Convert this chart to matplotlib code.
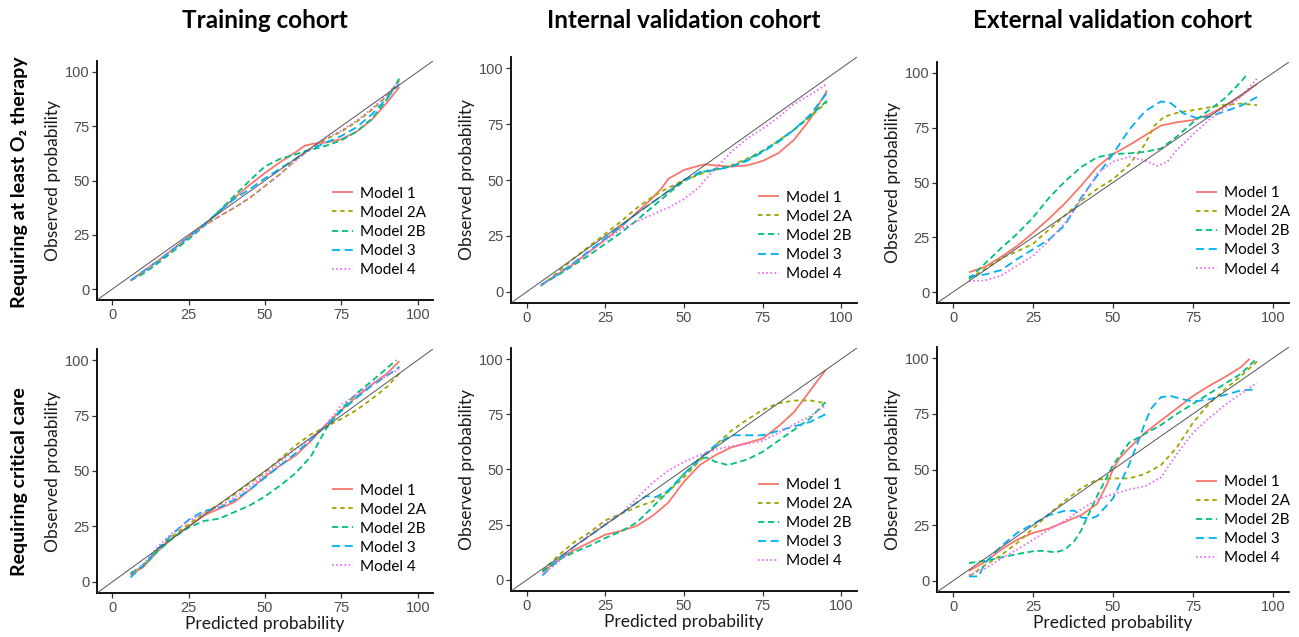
import matplotlib
matplotlib.use("Agg")
import matplotlib.pyplot as plt

# ---------------- data ----------------
model_names = ["Model 1", "Model 2A", "Model 2B", "Model 3", "Model 4"]
col_titles = ["Training cohort", "Internal validation cohort", "External validation cohort"]
row_titles = ["Requiring at least O\u2082 therapy", "Requiring critical care"]
tick_vals = [0, 25, 50, 75, 100]

# Training cohort, O2 therapy
tr_o2_x = [6, 10, 15, 20, 25, 30, 35, 40, 45, 50, 55, 60, 63, 66, 70, 75, 80, 85, 90, 94]
tr_o2_m1 = [4, 8, 13, 18.5, 24, 29.5, 35.5, 42, 48, 53.5, 58.5, 63, 66, 67, 67.5, 69, 72.5, 78, 86, 93]
tr_o2_m2a = [4, 8, 13, 18.5, 24, 29, 33.5, 37.5, 42, 47.5, 53, 59.5, 62.5, 65.5, 69, 72.5, 77, 82.5, 89, 96]
tr_o2_m2b = [4, 7, 12, 17.5, 23, 29, 36, 43, 50, 56.5, 60, 62, 63.5, 64.5, 66, 68.5, 72.5, 78.5, 87.5, 97]
tr_o2_m3 = [4, 8, 13, 18.5, 24, 29.5, 36, 41.5, 46, 51, 55.5, 60, 63, 65, 67.5, 70.5, 74.5, 80.5, 88, 94.5]
tr_o2_m4 = [4, 8, 13, 18.5, 24, 29, 33.5, 37.5, 42, 47.5, 53, 59, 62.5, 65.5, 69.5, 73, 77.5, 83, 89.5, 96]

# Internal validation cohort, O2 therapy
iv_o2_x = [4.5, 10, 15, 20, 25, 30, 35, 40, 43, 45, 50, 55, 57, 60, 65, 70, 75, 80, 85, 90, 95.5]
iv_o2_m1 = [3, 8, 12.5, 18, 23.5, 29, 35.5, 42, 46.5, 50.5, 54.5, 56.5, 57, 56.5, 56, 56.5, 58.5, 62, 68, 77, 90]
iv_o2_m2a = [2.5, 9, 15, 20.5, 26, 31.5, 37.5, 42.5, 45, 46.5, 50, 52.5, 53.5, 54.5, 56.5, 59.5, 63, 67.5, 72.5, 78, 85]
iv_o2_m2b = [3, 7.5, 12, 16.5, 21.5, 26.5, 32, 38, 41.5, 44, 49.5, 53, 54, 55, 56, 59, 63, 67.5, 72.5, 78.5, 85.5]
iv_o2_m3 = [3, 8, 13, 18.5, 24, 29.5, 35, 40, 43, 45, 50, 53.5, 54, 54.5, 56, 58.5, 62.5, 67, 72.5, 79, 89]
iv_o2_m4 = [3, 8, 13, 18, 23, 28, 31.5, 34.5, 36.5, 37.5, 41.5, 47, 50.5, 55, 62.5, 68.5, 73, 78, 84, 88, 93]

# External validation cohort, O2 therapy
ev_o2_m1_x = [5, 10, 15, 20, 25, 30, 35, 40, 45, 50, 55, 60, 65, 70, 75, 80, 85, 90, 95]
ev_o2_m1 = [9, 11.5, 16, 21, 27, 33.5, 40.5, 48.5, 57, 63, 67, 71.5, 76, 77.5, 78.5, 81, 85, 89.5, 95]
ev_o2_m2a_x = [5, 10, 15, 20, 25, 30, 35, 40, 45, 50, 55, 60, 63, 66, 70, 75, 80, 85, 90, 95]
ev_o2_m2a = [6, 10.5, 15.5, 18.5, 22, 28.5, 35, 41.5, 47, 51.5, 58, 67.5, 76, 80, 81.8, 83, 84.3, 85.5, 86, 85.3]
ev_o2_m2b_x = [5, 10, 15, 20, 25, 30, 35, 40, 45, 50, 55, 60, 65, 70, 75, 80, 85, 90, 92]
ev_o2_m2b = [6, 13, 20, 26.5, 34, 43, 50.5, 57, 61.5, 63, 63.3, 64, 65.5, 71, 77.5, 83, 88.5, 96, 99.5]
ev_o2_m3_x = [5, 10, 15, 20, 25, 30, 35, 40, 45, 50, 55, 60, 65, 68, 72, 76, 80, 85, 90, 95]
ev_o2_m3 = [7, 8, 10, 15, 19.5, 24, 30.5, 43, 53, 63, 74, 82.5, 87, 86.3, 81.5, 79.5, 80, 82.5, 85, 89]
ev_o2_m4_x = [5, 10, 15, 20, 25, 30, 35, 40, 45, 50, 55, 60, 64, 67, 70, 75, 80, 85, 90, 95]
ev_o2_m4 = [5, 5.3, 7.5, 12, 16.5, 23.5, 31.5, 42, 54, 59.5, 61.8, 60, 57.5, 59.5, 65, 72, 78.5, 84, 89, 97.5]

# Training cohort, critical care
tr_cc_x = [6, 10, 15, 20, 25, 30, 35, 40, 45, 50, 55, 60, 65, 70, 75, 80, 85, 90, 94]
tr_cc_m1 = [3.5, 6.5, 14, 20, 25, 30, 33, 36, 41.5, 47.5, 52.5, 57, 63.5, 71, 77.5, 83.5, 89, 94, 99.5]
tr_cc_m2a = [3, 7, 15, 21, 26, 31, 35, 39.5, 44.5, 49.5, 55.5, 61.5, 66.5, 70, 73.5, 77.5, 82.5, 88, 94]
tr_cc_m2b_x = [6, 10, 15, 20, 25, 30, 35, 40, 45, 50, 55, 60, 65, 67, 70, 75, 80, 85, 90, 93]
tr_cc_m2b = [4, 7, 14, 20, 24.5, 27.5, 28.5, 31.5, 34.5, 38.5, 43.5, 49, 56.5, 61.5, 69, 78, 85, 90.5, 96.5, 100]
tr_cc_m3 = [2, 7.5, 15, 22, 28, 32, 33.5, 37, 41.5, 47, 52.5, 58, 64, 70.5, 77, 83, 88.5, 93, 97]
tr_cc_m4_x = [6, 10, 15, 20, 25, 30, 35, 40, 45, 50, 55, 60, 65, 70, 73, 75, 80, 85, 90, 94]
tr_cc_m4 = [3, 8, 16, 22.5, 27.5, 31, 34, 38, 43, 48.5, 54, 60, 64.5, 71, 76, 80, 84.5, 89, 93, 96]

# Internal validation cohort, critical care
iv_cc_x = [5, 10, 15, 20, 25, 30, 35, 40, 45, 50, 55, 60, 65, 70, 75, 80, 85, 90, 95]
iv_cc_m1 = [3.5, 9, 13.5, 17, 20.5, 22.2, 24.5, 29, 35, 44.5, 52, 56.5, 60, 62, 64, 69.5, 76, 85.5, 95]
iv_cc_m2a = [4, 11, 17, 21.5, 27, 30, 33, 35.5, 40, 46.5, 54, 61, 67.5, 72.5, 77, 80, 81.2, 81.3, 80]
iv_cc_m2b_x = [5, 10, 15, 20, 25, 30, 35, 40, 45, 50, 55, 57, 60, 64, 70, 75, 80, 85, 90, 95]
iv_cc_m2b = [4, 9, 12.5, 15.5, 19, 22, 26, 33, 40, 48, 54.5, 55.5, 53.5, 52, 54.5, 58, 63, 68, 73, 80.5]
iv_cc_m3_x = [5, 10, 15, 20, 25, 30, 35, 38, 41, 45, 50, 55, 60, 65, 70, 75, 80, 85, 90, 95]
iv_cc_m3 = [2, 9, 15, 20, 25, 30, 35, 38, 37.5, 40.5, 48, 55, 61, 65.5, 65.5, 65.5, 67.5, 69.5, 71.5, 75]
iv_cc_m4 = [2.5, 8, 15, 20.5, 25.5, 30, 37, 44, 49.5, 53.5, 56.5, 59, 60.5, 61.5, 63, 66.5, 70.5, 74, 79]

# External validation cohort, critical care
ev_cc_m1_x = [5, 10, 15, 20, 25, 30, 35, 40, 45, 48, 50, 52, 55, 60, 65, 70, 75, 80, 85, 90, 92.7]
ev_cc_m1 = [4.5, 8.5, 14, 18.5, 21.5, 23.5, 26.5, 29.5, 34.5, 43, 50, 55, 59.5, 66.5, 72, 77.5, 83, 87.5, 91.5, 96, 99.7]
ev_cc_x = [5, 10, 15, 20, 25, 30, 35, 40, 45, 50, 55, 60, 65, 70, 75, 80, 85, 90, 95]
ev_cc_m2a = [2, 7, 11.5, 17, 23.5, 30, 36, 41.5, 45.5, 46, 46, 48, 52, 60, 71, 79.5, 86, 92, 98.5]
ev_cc_m2b_x = [5, 10, 15, 20, 25, 28, 32, 35, 38, 40, 45, 50, 55, 60, 65, 70, 75, 80, 85, 90, 95]
ev_cc_m2b = [8, 9, 10.5, 12, 13.3, 13.5, 12.8, 14, 18, 22.5, 38, 52, 62, 66, 70, 75, 79.5, 84, 88.5, 93, 100]
ev_cc_m3_x = [5, 8, 10, 15, 20, 25, 30, 35, 38, 40, 43, 45, 50, 55, 58, 60, 62, 65, 68, 72, 75, 80, 85, 90, 95]
ev_cc_m3 = [2, 2, 8, 15.5, 21.5, 25.5, 29.5, 31.5, 31.5, 28.5, 28, 29, 37, 52, 63, 71, 77.5, 82.5, 83, 81.5, 80.5, 81.5, 83.5, 85.5, 86]
ev_cc_m4 = [2.5, 5.5, 10, 14, 18.5, 23, 27, 32, 36.5, 39, 41, 42.5, 46.5, 57, 66.5, 73, 79, 84, 89]

# ---------------- styling ----------------
colors = ["#F8766D", "#A3A500", "#00BF7D", "#00B0F6", "#E76BF3"]
dashes = [None, (2.5, 2.0), (3.5, 2.0), (4.5, 2.5), (0.9, 1.4)]

panels = [
    (0, 0, [(tr_o2_x, tr_o2_m1), (tr_o2_x, tr_o2_m2a), (tr_o2_x, tr_o2_m2b), (tr_o2_x, tr_o2_m3), (tr_o2_x, tr_o2_m4)]),
    (0, 1, [(iv_o2_x, iv_o2_m1), (iv_o2_x, iv_o2_m2a), (iv_o2_x, iv_o2_m2b), (iv_o2_x, iv_o2_m3), (iv_o2_x, iv_o2_m4)]),
    (0, 2, [(ev_o2_m1_x, ev_o2_m1), (ev_o2_m2a_x, ev_o2_m2a), (ev_o2_m2b_x, ev_o2_m2b), (ev_o2_m3_x, ev_o2_m3), (ev_o2_m4_x, ev_o2_m4)]),
    (1, 0, [(tr_cc_x, tr_cc_m1), (tr_cc_x, tr_cc_m2a), (tr_cc_m2b_x, tr_cc_m2b), (tr_cc_x, tr_cc_m3), (tr_cc_m4_x, tr_cc_m4)]),
    (1, 1, [(iv_cc_x, iv_cc_m1), (iv_cc_x, iv_cc_m2a), (iv_cc_m2b_x, iv_cc_m2b), (iv_cc_m3_x, iv_cc_m3), (iv_cc_x, iv_cc_m4)]),
    (1, 2, [(ev_cc_m1_x, ev_cc_m1), (ev_cc_x, ev_cc_m2a), (ev_cc_m2b_x, ev_cc_m2b), (ev_cc_m3_x, ev_cc_m3), (ev_cc_x, ev_cc_m4)]),
]

W, H = 1299, 637
# axes boxes in pixels: (left, top, right, bottom)
boxes = {
    (0, 0): (97, 61, 433, 300),
    (0, 1): (511, 57, 857, 303),
    (0, 2): (937, 62, 1289, 303),
    (1, 0): (97, 349, 433, 593),
    (1, 1): (511, 348, 857, 591),
    (1, 2): (937, 347, 1289, 592),
}
legend_anchor = {
    (0, 0): (0.70, 0.285), (0, 1): (0.715, 0.273), (0, 2): (0.737, 0.297),
    (1, 0): (0.70, 0.264), (1, 1): (0.715, 0.279), (1, 2): (0.737, 0.294),
}

label_font = "Lato"
tick_font = "Liberation Sans"
title_font = ["Lato", "DejaVu Sans"]

fig = plt.figure(figsize=(W / 100, H / 100), dpi=100)

for r, c, series in panels:
    l, t, rr, b = boxes[(r, c)]
    ax = fig.add_axes([l / W, 1 - b / H, (rr - l) / W, (b - t) / H])
    ax.set_xlim(-5, 105)
    ax.set_ylim(-5, 105)
    ax.axline((0, 0), slope=1, color="#555555", lw=0.7, zorder=3)
    for i, (xs, ys) in enumerate(series):
        line, = ax.plot(xs, ys, color=colors[i], lw=1.3, label=model_names[i],
                        solid_capstyle="butt", dash_capstyle="butt", zorder=2)
        if dashes[i] is not None:
            line.set_dashes(dashes[i])
    for sp in ["top", "right"]:
        ax.spines[sp].set_visible(False)
    for sp in ["left", "bottom"]:
        ax.spines[sp].set_linewidth(1.3)
        ax.spines[sp].set_color("black")
    ax.set_xticks(tick_vals)
    ax.set_yticks(tick_vals)
    ax.tick_params(axis="both", direction="out", length=3.5, width=0.9, color="#333333",
                   labelcolor="#4D4D4D", labelsize=10.5, pad=2)
    for lab in ax.get_xticklabels() + ax.get_yticklabels():
        lab.set_fontfamily(tick_font)
    ax.set_ylabel("Observed probability", fontfamily=label_font, fontsize=12.5,
                  color="#1a1a1a", labelpad=3)
    if r == 1:
        ax.set_xlabel("Predicted probability", fontfamily=label_font, fontsize=12.5,
                      color="#1a1a1a", labelpad=1)
    ax.legend(loc="center left", bbox_to_anchor=legend_anchor[(r, c)], frameon=False,
              borderpad=0, borderaxespad=0, handlelength=1.35, handletextpad=0.45,
              labelspacing=0.33, prop={"family": label_font, "size": 11})
    if r == 0:
        fig.text((l + rr) / 2 / W, 1 - 21 / H, col_titles[c], ha="center", va="center",
                 fontsize=17.5, fontweight="bold", family=title_font)

fig.text(20 / W, 1 - 182 / H, row_titles[0], rotation=90, ha="center", va="center",
         fontsize=14, fontweight="bold", family=title_font)
fig.text(20 / W, 1 - 482 / H, row_titles[1], rotation=90, ha="center", va="center",
         fontsize=14, fontweight="bold", family=title_font)

fig.savefig("out.png", dpi=100)
